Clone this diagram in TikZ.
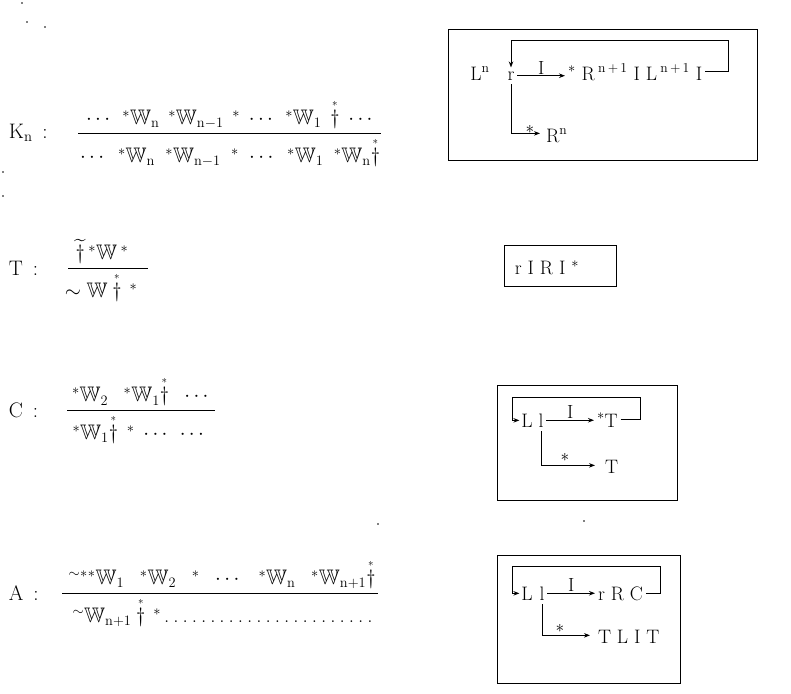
\documentclass[tikz,border=0pt]{standalone}
\usepackage{amsmath,amssymb}
\usetikzlibrary{arrows.meta}
\newcommand{\W}{\mathbb{W}}
\newcommand{\st}{{}^{*}}
\newcommand{\stdag}{\overset{\scriptscriptstyle *}{\dagger}}
\tikzset{
  ln/.style={line width=1pt},
  arr/.style={ln,-{Stealth[length=6pt,width=4.5pt]}},
  frame/.style={draw,line width=1pt,inner sep=0pt},
  txt/.style={inner sep=0pt,outer sep=0pt},
  sym/.style={inner xsep=3pt,inner ysep=4pt,outer sep=0pt},
  lab/.style={inner sep=1pt,font=\fontsize{19}{21}\selectfont},
  frac/.style={inner sep=0pt,outer sep=0pt,font=\fontsize{21}{24}\selectfont},
  speck/.style={fill=black,inner sep=0pt,minimum size=1.6pt,circle},
}
\begin{document}
\begin{tikzpicture}[x=1pt,y=-1pt,font=\fontsize{19.5}{22}\selectfont]
\useasboundingbox (0,0) rectangle (791,693);

% ---------- left formulas ----------
% K_n
\node[frac,anchor=west] (klab) at (9,133) {K\textsubscript{n}\ \,:};
\coordinate (kb1) at (78,133);
\coordinate (kb2) at (381,133);
\draw[ln] (kb1) -- (kb2);
\node[frac,anchor=south] (knum) at (231,129) {\makebox[290pt][s]{$\cdots$ $\st\W_{\mathrm n}$ $\st\W_{\mathrm{n-1}}$ $\st$ $\cdots$ $\st\W_1$ $\stdag$ $\cdots$}};
\node[frac,anchor=north] (kden) at (230,137) {\makebox[300pt][s]{$\cdots$ $\st\W_{\mathrm n}$ $\st\W_{\mathrm{n-1}}$ $\st$ $\cdots$ $\st\W_1$ $\st\W_{\mathrm n}\stdag$}};

% T
\node[frac,anchor=west] (tlab) at (9,268) {T\ \,:};
\coordinate (tb1) at (68,268);
\coordinate (tb2) at (148,268);
\draw[ln] (tb1) -- (tb2);
\node[frac,anchor=south] (tnum) at (102,264) {$\widetilde{\dagger}\,\st\W\,\st$};
\node[frac,anchor=north] (tden) at (101,272) {$\sim\W\stdag\,\st$};

% C
\node[frac,anchor=west] (clab) at (9,410) {C\ \,:};
\coordinate (cb1) at (67,410);
\coordinate (cb2) at (215,410);
\draw[ln] (cb1) -- (cb2);
\node[frac,anchor=south] (cnum) at (142,406) {\makebox[140pt][s]{$\st\W_2$ $\st\W_1\stdag$ $\cdots$}};
\node[frac,anchor=north] (cden) at (140,414) {\makebox[135pt][s]{$\st\W_1\stdag$ $\st$ $\cdots$ $\cdots$}};

% A
\node[frac,anchor=west] (alab) at (9,593) {A\ \,:};
\coordinate (ab1) at (62,593);
\coordinate (ab2) at (378,593);
\draw[ln] (ab1) -- (ab2);
\node[frac,anchor=south] (anum) at (222,589) {\makebox[307pt][s]{$^{\sim}\st\st\W_1$ $\st\W_2$ $\st$ $\cdots$ $\st\W_{\mathrm n}$ $\st\W_{\mathrm{n+1}}\stdag$}};
\node[frac,anchor=north] (aden) at (224,597) {\makebox[303pt][s]{$^{\sim}\W_{\mathrm{n+1}}\stdag\,\st$\dotfill}};

% ---------- box 1 ----------
\node[frame,minimum width=309pt,minimum height=130pt] (B1) at (602.5,95) {};
\node[txt,anchor=base] (L1) at (480,80) {L\textsuperscript{n}};
\node[sym,anchor=base] (r1) at (511,80) {r};
\node[txt,anchor=base west,inner xsep=3pt] (t1) at (565,80) {$^{*}$\ R\,\textsuperscript{n\,+\,1}\ I\ L\,\textsuperscript{n\,+\,1}\ I};
\draw[arr] (r1.east) -- node[lab,above] (i1) {I} (r1.east -| t1.west);
\coordinate (c1) at (728,41);
\draw[arr] (t1.east) -| (c1) -| (r1.north);
\node[txt,anchor=base west] (Rn1) at (546,142) {R\textsuperscript{n}};
\draw[arr] (r1.south) |- ([xshift=-6pt,yshift=2pt]Rn1.west);
\node[lab] (s1) at (530,129) {$*$};

% ---------- box 2 ----------
\node[frame,minimum width=112pt,minimum height=41pt] (B2) at (560,265.5) {};
\node[txt] (t2) at (547,268) {r I R I $^{*}$};

% ---------- box 3 ----------
\node[frame,minimum width=180pt,minimum height=115pt] (B3) at (587,442.5) {};
\node[txt,anchor=base,inner xsep=2pt] (L3) at (527,427) {L};
\node[sym,anchor=base] (l3) at (541,427) {l};
\node[txt,anchor=base west,inner xsep=3pt] (T3) at (594,427) {$^{*}$T};
\draw[arr] (l3.east) -- node[lab,above] (i3) {I} (l3.east -| T3.west);
\coordinate (c3) at (640,397);
\coordinate (c3l) at (512,397);
\draw[arr] (T3.east) -| (c3) -- (c3l) |- (L3.west);
\node[txt,anchor=base west] (T3b) at (605,473) {T};
\draw[arr] (l3.south) |- ([xshift=-10pt,yshift=1pt]T3b.west);
\node[lab] (s3) at (565,457) {$*$};

% ---------- box 4 ----------
\node[frame,minimum width=183pt,minimum height=128pt] (B4) at (588.5,619) {};
\node[txt,anchor=base,inner xsep=2pt] (L4) at (527,600) {L};
\node[sym,anchor=base] (l4) at (542,600) {l};
\node[txt,anchor=base west,inner xsep=3pt] (t4) at (595,600) {r R C};
\draw[arr] (l4.east) -- node[lab,above] (i4) {I} (l4.east -| t4.west);
\coordinate (c4) at (660,566);
\coordinate (c4l) at (512,566);
\draw[arr] (t4.east) -| (c4) -- (c4l) |- (L4.west);
\node[txt,anchor=base west] (t4b) at (598,643) {T L I T};
\draw[arr] (l4.south) |- ([xshift=-8pt,yshift=1pt]t4b.west);
\node[lab] (s4) at (560,628) {$*$};

% ---------- scan specks ----------
\node[speck] (sp1) at (22,3) {};
\node[speck] (sp2) at (27,22) {};
\node[speck] (sp3) at (45,27) {};
\node[speck] (sp4) at (3,172) {};
\node[speck] (sp5) at (3,196) {};
\node[speck] (sp6) at (378,524) {};
\node[speck] (sp7) at (584,521) {};
\end{tikzpicture}
\end{document}
